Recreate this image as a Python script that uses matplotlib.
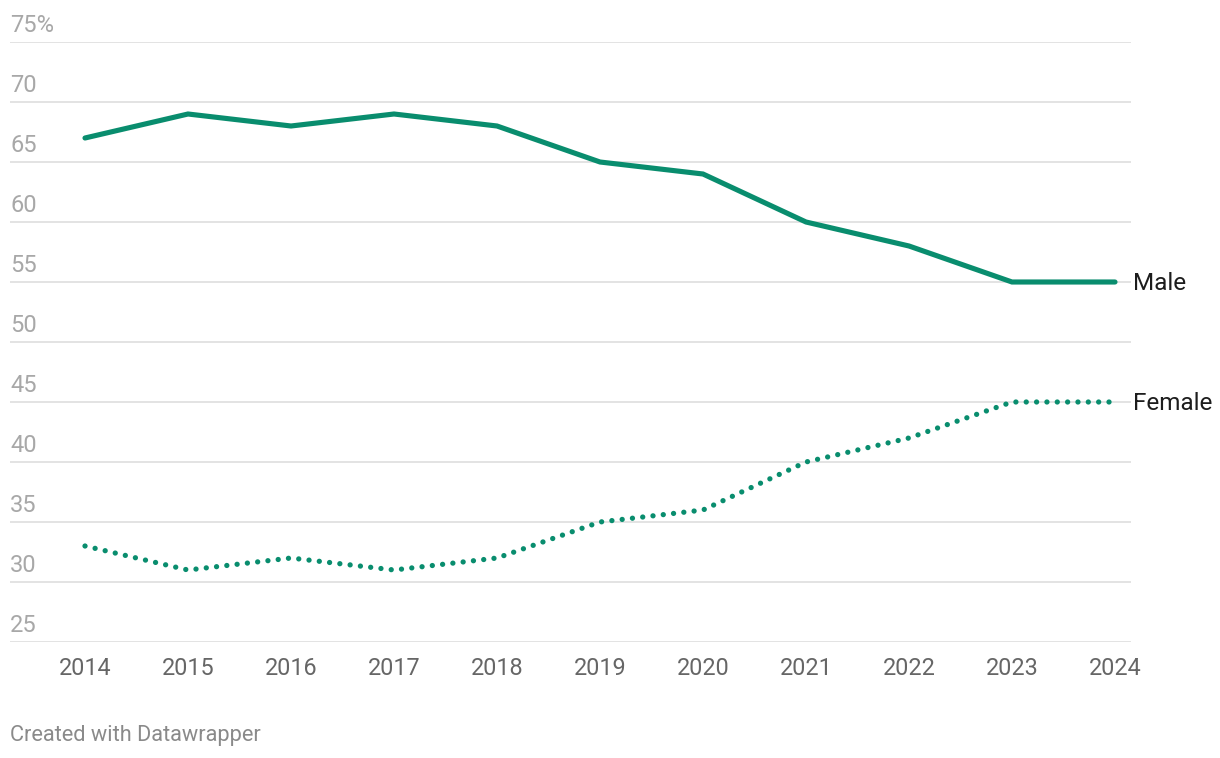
import matplotlib.pyplot as plt
import matplotlib.transforms as mtransforms

years = [2014, 2015, 2016, 2017, 2018, 2019, 2020, 2021, 2022, 2023, 2024]
male = [67, 69, 68, 69, 68, 65, 64, 60, 58, 55, 55]
female = [33, 31, 32, 31, 32, 35, 36, 40, 42, 45, 45]
y_ticks = [25, 30, 35, 40, 45, 50, 55, 60, 65, 70, 75]
y_labels = ["25", "30", "35", "40", "45", "50", "55", "60", "65", "70", "75%"]

TEAL = "#098d6e"


def main():
    plt.rcParams["font.family"] = ["Roboto", "DejaVu Sans"]
    fig = plt.figure(figsize=(12.2, 7.58), dpi=100)
    ax = fig.add_axes([10 / 1220, 1 - 642 / 758, 1121 / 1220, 600 / 758])
    ax.set_xlim(2014 - 75 / 103, 2024 + 16 / 103)
    ax.set_ylim(25, 75)

    ax.set_yticks(y_ticks)
    ax.set_yticklabels([])
    ax.grid(True, axis="y", color="#e1e1e1", linewidth=1.3, zorder=0)
    ax.set_xticks(years)
    ax.set_xticklabels([str(y) for y in years], fontsize=16.8, color="#666666")
    ax.tick_params(axis="both", length=0)
    ax.tick_params(axis="x", pad=11)
    for spine in ax.spines.values():
        spine.set_visible(False)

    ax.plot(years, male, color=TEAL, linewidth=3.7, solid_capstyle="round",
            solid_joinstyle="miter", zorder=3, clip_on=False)
    ax.plot(years, female, color=TEAL, linewidth=3.8, linestyle=(0, (0.01, 1.95)),
            dash_capstyle="round", zorder=3, clip_on=False)

    # y labels sit above their gridlines, left aligned
    offset = mtransforms.ScaledTranslation(0, 9.5 / 100, fig.dpi_scale_trans)
    trans = mtransforms.blended_transform_factory(ax.transAxes, ax.transData) + offset
    for val, lab in zip(y_ticks, y_labels):
        ax.text(0.0, val, lab, transform=trans, ha="left", va="baseline",
                fontsize=17, color="#a8a8a8")

    ax.annotate("Male", xy=(1, male[-1]), xycoords=("axes fraction", "data"),
                xytext=(1.5, -1.4), textcoords="offset points", ha="left", va="center",
                fontsize=17.5, color="#1d1d1d", annotation_clip=False)
    ax.annotate("Female", xy=(1, female[-1]), xycoords=("axes fraction", "data"),
                xytext=(1.5, -1.4), textcoords="offset points", ha="left", va="center",
                fontsize=17.5, color="#1d1d1d", annotation_clip=False)

    fig.text(10 / 1220, 1 - 735 / 758, "Created with Datawrapper", ha="left",
             va="center", fontsize=15.7, color="#8a8a8a")

    fig.savefig("out.png", dpi=100, facecolor="white")


if __name__ == "__main__":
    main()
